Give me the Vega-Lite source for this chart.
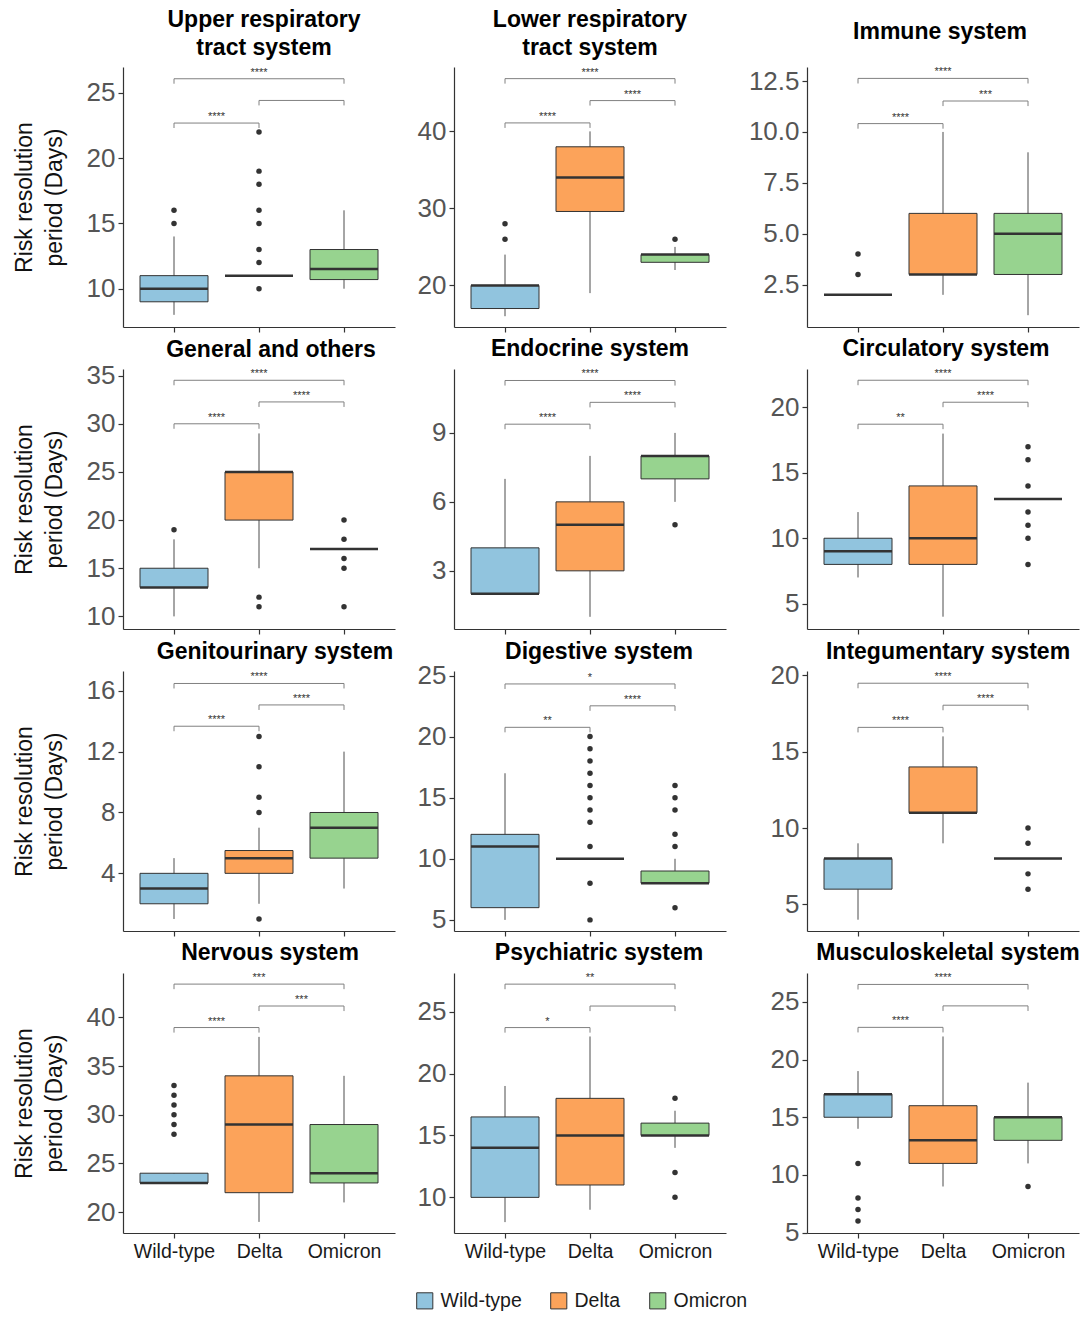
{
"$schema": "https://vega.github.io/schema/vega-lite/v6.json",
"padding": {"left": 13, "top": 8, "right": 5, "bottom": 5},
"data": {"values": [
{"panel":"Upper respiratory tract system","kind":"box","variant":"Wild-type","lo":8,"q1":9,"med":10,"q3":11,"hi":14},
{"panel":"Upper respiratory tract system","kind":"box","variant":"Delta","lo":11,"q1":11,"med":11,"q3":11,"hi":11},
{"panel":"Upper respiratory tract system","kind":"box","variant":"Omicron","lo":10,"q1":10.7,"med":11.5,"q3":13,"hi":16},
{"panel":"Upper respiratory tract system","kind":"out","variant":"Wild-type","value":15},
{"panel":"Upper respiratory tract system","kind":"out","variant":"Wild-type","value":16},
{"panel":"Upper respiratory tract system","kind":"out","variant":"Delta","value":10},
{"panel":"Upper respiratory tract system","kind":"out","variant":"Delta","value":12},
{"panel":"Upper respiratory tract system","kind":"out","variant":"Delta","value":13},
{"panel":"Upper respiratory tract system","kind":"out","variant":"Delta","value":15},
{"panel":"Upper respiratory tract system","kind":"out","variant":"Delta","value":16},
{"panel":"Upper respiratory tract system","kind":"out","variant":"Delta","value":18},
{"panel":"Upper respiratory tract system","kind":"out","variant":"Delta","value":19},
{"panel":"Upper respiratory tract system","kind":"out","variant":"Delta","value":22},
{"panel":"Upper respiratory tract system","kind":"br","variant":"Wild-type","to":"Delta","y":22.68,"tip":22.3,"label":"****","span":"adj"},
{"panel":"Upper respiratory tract system","kind":"br","variant":"Delta","to":"Omicron","y":24.41,"tip":24.03,"label":"","span":"adj"},
{"panel":"Upper respiratory tract system","kind":"br","variant":"Wild-type","to":"Omicron","y":26.07,"tip":25.69,"label":"****","span":"wide"},

{"panel":"Lower respiratory tract system","kind":"box","variant":"Wild-type","lo":16,"q1":17,"med":20,"q3":20,"hi":24},
{"panel":"Lower respiratory tract system","kind":"box","variant":"Delta","lo":19,"q1":29.6,"med":34,"q3":38,"hi":40},
{"panel":"Lower respiratory tract system","kind":"box","variant":"Omicron","lo":22,"q1":23,"med":24,"q3":24,"hi":25},
{"panel":"Lower respiratory tract system","kind":"out","variant":"Wild-type","value":26},
{"panel":"Lower respiratory tract system","kind":"out","variant":"Wild-type","value":28},
{"panel":"Lower respiratory tract system","kind":"out","variant":"Omicron","value":26},
{"panel":"Lower respiratory tract system","kind":"br","variant":"Wild-type","to":"Delta","y":41.1,"tip":40.45,"label":"****","span":"adj"},
{"panel":"Lower respiratory tract system","kind":"br","variant":"Delta","to":"Omicron","y":44.0,"tip":43.35,"label":"****","span":"adj"},
{"panel":"Lower respiratory tract system","kind":"br","variant":"Wild-type","to":"Omicron","y":46.85,"tip":46.2,"label":"****","span":"wide"},

{"panel":"Immune system","kind":"box","variant":"Wild-type","lo":2,"q1":2,"med":2,"q3":2,"hi":2},
{"panel":"Immune system","kind":"box","variant":"Delta","lo":2,"q1":3,"med":3,"q3":6,"hi":10},
{"panel":"Immune system","kind":"box","variant":"Omicron","lo":1,"q1":3,"med":5,"q3":6,"hi":9},
{"panel":"Immune system","kind":"out","variant":"Wild-type","value":3},
{"panel":"Immune system","kind":"out","variant":"Wild-type","value":4},
{"panel":"Immune system","kind":"br","variant":"Wild-type","to":"Delta","y":10.41,"tip":10.16,"label":"****","span":"adj"},
{"panel":"Immune system","kind":"br","variant":"Delta","to":"Omicron","y":11.52,"tip":11.27,"label":"***","span":"adj"},
{"panel":"Immune system","kind":"br","variant":"Wild-type","to":"Omicron","y":12.63,"tip":12.38,"label":"****","span":"wide"},

{"panel":"General and others","kind":"box","variant":"Wild-type","lo":10,"q1":13,"med":13,"q3":15,"hi":18},
{"panel":"General and others","kind":"box","variant":"Delta","lo":15,"q1":20,"med":25,"q3":25,"hi":29},
{"panel":"General and others","kind":"box","variant":"Omicron","lo":17,"q1":17,"med":17,"q3":17,"hi":17},
{"panel":"General and others","kind":"out","variant":"Wild-type","value":19},
{"panel":"General and others","kind":"out","variant":"Delta","value":11},
{"panel":"General and others","kind":"out","variant":"Delta","value":12},
{"panel":"General and others","kind":"out","variant":"Omicron","value":11},
{"panel":"General and others","kind":"out","variant":"Omicron","value":15},
{"panel":"General and others","kind":"out","variant":"Omicron","value":16},
{"panel":"General and others","kind":"out","variant":"Omicron","value":18},
{"panel":"General and others","kind":"out","variant":"Omicron","value":20},
{"panel":"General and others","kind":"br","variant":"Wild-type","to":"Delta","y":30.0,"tip":29.48,"label":"****","span":"adj"},
{"panel":"General and others","kind":"br","variant":"Delta","to":"Omicron","y":32.27,"tip":31.75,"label":"****","span":"adj"},
{"panel":"General and others","kind":"br","variant":"Wild-type","to":"Omicron","y":34.52,"tip":34.0,"label":"****","span":"wide"},

{"panel":"Endocrine system","kind":"box","variant":"Wild-type","lo":2,"q1":2,"med":2,"q3":4,"hi":7},
{"panel":"Endocrine system","kind":"box","variant":"Delta","lo":1,"q1":3,"med":5,"q3":6,"hi":8},
{"panel":"Endocrine system","kind":"box","variant":"Omicron","lo":6,"q1":7,"med":8,"q3":8,"hi":9},
{"panel":"Endocrine system","kind":"out","variant":"Omicron","value":5},
{"panel":"Endocrine system","kind":"br","variant":"Wild-type","to":"Delta","y":9.38,"tip":9.16,"label":"****","span":"adj"},
{"panel":"Endocrine system","kind":"br","variant":"Delta","to":"Omicron","y":10.33,"tip":10.11,"label":"****","span":"adj"},
{"panel":"Endocrine system","kind":"br","variant":"Wild-type","to":"Omicron","y":11.28,"tip":11.06,"label":"****","span":"wide"},

{"panel":"Circulatory system","kind":"box","variant":"Wild-type","lo":7,"q1":8,"med":9,"q3":10,"hi":12},
{"panel":"Circulatory system","kind":"box","variant":"Delta","lo":4,"q1":8,"med":10,"q3":14,"hi":18},
{"panel":"Circulatory system","kind":"box","variant":"Omicron","lo":13,"q1":13,"med":13,"q3":13,"hi":13},
{"panel":"Circulatory system","kind":"out","variant":"Omicron","value":8},
{"panel":"Circulatory system","kind":"out","variant":"Omicron","value":10},
{"panel":"Circulatory system","kind":"out","variant":"Omicron","value":11},
{"panel":"Circulatory system","kind":"out","variant":"Omicron","value":12},
{"panel":"Circulatory system","kind":"out","variant":"Omicron","value":14},
{"panel":"Circulatory system","kind":"out","variant":"Omicron","value":16},
{"panel":"Circulatory system","kind":"out","variant":"Omicron","value":17},
{"panel":"Circulatory system","kind":"br","variant":"Wild-type","to":"Delta","y":18.72,"tip":18.34,"label":"**","span":"adj"},
{"panel":"Circulatory system","kind":"br","variant":"Delta","to":"Omicron","y":20.4,"tip":20.02,"label":"****","span":"adj"},
{"panel":"Circulatory system","kind":"br","variant":"Wild-type","to":"Omicron","y":22.08,"tip":21.7,"label":"****","span":"wide"},

{"panel":"Genitourinary system","kind":"box","variant":"Wild-type","lo":1,"q1":2,"med":3,"q3":4,"hi":5},
{"panel":"Genitourinary system","kind":"box","variant":"Delta","lo":2,"q1":4,"med":5,"q3":5.5,"hi":7},
{"panel":"Genitourinary system","kind":"box","variant":"Omicron","lo":3,"q1":5,"med":7,"q3":8,"hi":12},
{"panel":"Genitourinary system","kind":"out","variant":"Delta","value":1},
{"panel":"Genitourinary system","kind":"out","variant":"Delta","value":8},
{"panel":"Genitourinary system","kind":"out","variant":"Delta","value":9},
{"panel":"Genitourinary system","kind":"out","variant":"Delta","value":11},
{"panel":"Genitourinary system","kind":"out","variant":"Delta","value":13},
{"panel":"Genitourinary system","kind":"br","variant":"Wild-type","to":"Delta","y":13.67,"tip":13.34,"label":"****","span":"adj"},
{"panel":"Genitourinary system","kind":"br","variant":"Delta","to":"Omicron","y":15.07,"tip":14.74,"label":"****","span":"adj"},
{"panel":"Genitourinary system","kind":"br","variant":"Wild-type","to":"Omicron","y":16.48,"tip":16.15,"label":"****","span":"wide"},

{"panel":"Digestive system","kind":"box","variant":"Wild-type","lo":5,"q1":6,"med":11,"q3":12,"hi":17},
{"panel":"Digestive system","kind":"box","variant":"Delta","lo":10,"q1":10,"med":10,"q3":10,"hi":10},
{"panel":"Digestive system","kind":"box","variant":"Omicron","lo":8,"q1":8,"med":8,"q3":9,"hi":10},
{"panel":"Digestive system","kind":"out","variant":"Delta","value":5},
{"panel":"Digestive system","kind":"out","variant":"Delta","value":8},
{"panel":"Digestive system","kind":"out","variant":"Delta","value":11},
{"panel":"Digestive system","kind":"out","variant":"Delta","value":13},
{"panel":"Digestive system","kind":"out","variant":"Delta","value":14},
{"panel":"Digestive system","kind":"out","variant":"Delta","value":15},
{"panel":"Digestive system","kind":"out","variant":"Delta","value":16},
{"panel":"Digestive system","kind":"out","variant":"Delta","value":17},
{"panel":"Digestive system","kind":"out","variant":"Delta","value":18},
{"panel":"Digestive system","kind":"out","variant":"Delta","value":19},
{"panel":"Digestive system","kind":"out","variant":"Delta","value":20},
{"panel":"Digestive system","kind":"out","variant":"Omicron","value":6},
{"panel":"Digestive system","kind":"out","variant":"Omicron","value":11},
{"panel":"Digestive system","kind":"out","variant":"Omicron","value":12},
{"panel":"Digestive system","kind":"out","variant":"Omicron","value":14},
{"panel":"Digestive system","kind":"out","variant":"Omicron","value":15},
{"panel":"Digestive system","kind":"out","variant":"Omicron","value":16},
{"panel":"Digestive system","kind":"br","variant":"Wild-type","to":"Delta","y":20.76,"tip":20.35,"label":"**","span":"adj"},
{"panel":"Digestive system","kind":"br","variant":"Delta","to":"Omicron","y":22.52,"tip":22.11,"label":"****","span":"adj"},
{"panel":"Digestive system","kind":"br","variant":"Wild-type","to":"Omicron","y":24.31,"tip":23.9,"label":"*","span":"wide"},

{"panel":"Integumentary system","kind":"box","variant":"Wild-type","lo":4,"q1":6,"med":8,"q3":8,"hi":9},
{"panel":"Integumentary system","kind":"box","variant":"Delta","lo":9,"q1":11,"med":11,"q3":14,"hi":16},
{"panel":"Integumentary system","kind":"box","variant":"Omicron","lo":8,"q1":8,"med":8,"q3":8,"hi":8},
{"panel":"Integumentary system","kind":"out","variant":"Omicron","value":6},
{"panel":"Integumentary system","kind":"out","variant":"Omicron","value":7},
{"panel":"Integumentary system","kind":"out","variant":"Omicron","value":9},
{"panel":"Integumentary system","kind":"out","variant":"Omicron","value":10},
{"panel":"Integumentary system","kind":"br","variant":"Wild-type","to":"Delta","y":16.59,"tip":16.26,"label":"****","span":"adj"},
{"panel":"Integumentary system","kind":"br","variant":"Delta","to":"Omicron","y":18.04,"tip":17.71,"label":"****","span":"adj"},
{"panel":"Integumentary system","kind":"br","variant":"Wild-type","to":"Omicron","y":19.48,"tip":19.15,"label":"****","span":"wide"},

{"panel":"Nervous system","kind":"box","variant":"Wild-type","lo":23,"q1":23,"med":23,"q3":24,"hi":24},
{"panel":"Nervous system","kind":"box","variant":"Delta","lo":19,"q1":22,"med":29,"q3":34,"hi":38},
{"panel":"Nervous system","kind":"box","variant":"Omicron","lo":21,"q1":23,"med":24,"q3":29,"hi":34},
{"panel":"Nervous system","kind":"out","variant":"Wild-type","value":28},
{"panel":"Nervous system","kind":"out","variant":"Wild-type","value":29},
{"panel":"Nervous system","kind":"out","variant":"Wild-type","value":30},
{"panel":"Nervous system","kind":"out","variant":"Wild-type","value":31},
{"panel":"Nervous system","kind":"out","variant":"Wild-type","value":32},
{"panel":"Nervous system","kind":"out","variant":"Wild-type","value":33},
{"panel":"Nervous system","kind":"br","variant":"Wild-type","to":"Delta","y":38.96,"tip":38.44,"label":"****","span":"adj"},
{"panel":"Nervous system","kind":"br","variant":"Delta","to":"Omicron","y":41.17,"tip":40.65,"label":"***","span":"adj"},
{"panel":"Nervous system","kind":"br","variant":"Wild-type","to":"Omicron","y":43.42,"tip":42.9,"label":"***","span":"wide"},

{"panel":"Psychiatric system","kind":"box","variant":"Wild-type","lo":8,"q1":10,"med":14,"q3":16.5,"hi":19},
{"panel":"Psychiatric system","kind":"box","variant":"Delta","lo":9,"q1":11,"med":15,"q3":18,"hi":23},
{"panel":"Psychiatric system","kind":"box","variant":"Omicron","lo":14,"q1":15,"med":15,"q3":16,"hi":17},
{"panel":"Psychiatric system","kind":"out","variant":"Omicron","value":10},
{"panel":"Psychiatric system","kind":"out","variant":"Omicron","value":12},
{"panel":"Psychiatric system","kind":"out","variant":"Omicron","value":18},
{"panel":"Psychiatric system","kind":"br","variant":"Wild-type","to":"Delta","y":23.72,"tip":23.31,"label":"*","span":"adj"},
{"panel":"Psychiatric system","kind":"br","variant":"Delta","to":"Omicron","y":25.46,"tip":25.05,"label":"","span":"adj"},
{"panel":"Psychiatric system","kind":"br","variant":"Wild-type","to":"Omicron","y":27.23,"tip":26.82,"label":"**","span":"wide"},

{"panel":"Musculoskeletal system","kind":"box","variant":"Wild-type","lo":14,"q1":15,"med":17,"q3":17,"hi":19},
{"panel":"Musculoskeletal system","kind":"box","variant":"Delta","lo":9,"q1":11,"med":13,"q3":16,"hi":22},
{"panel":"Musculoskeletal system","kind":"box","variant":"Omicron","lo":11,"q1":13,"med":15,"q3":15,"hi":18},
{"panel":"Musculoskeletal system","kind":"out","variant":"Wild-type","value":6},
{"panel":"Musculoskeletal system","kind":"out","variant":"Wild-type","value":7},
{"panel":"Musculoskeletal system","kind":"out","variant":"Wild-type","value":8},
{"panel":"Musculoskeletal system","kind":"out","variant":"Wild-type","value":11},
{"panel":"Musculoskeletal system","kind":"out","variant":"Omicron","value":9},
{"panel":"Musculoskeletal system","kind":"br","variant":"Wild-type","to":"Delta","y":22.79,"tip":22.35,"label":"****","span":"adj"},
{"panel":"Musculoskeletal system","kind":"br","variant":"Delta","to":"Omicron","y":24.65,"tip":24.21,"label":"","span":"adj"},
{"panel":"Musculoskeletal system","kind":"br","variant":"Wild-type","to":"Omicron","y":26.51,"tip":26.07,"label":"****","span":"wide"}
]},
"columns": 3,
"spacing": {"row": 5, "column": 22},
"resolve": {"scale": {"color": "shared"}, "legend": {"color": "shared"}},
"concat": [
{"width": 272, "height": 260, "title": {"text": ["Upper respiratory", "tract system"], "dx": 5},
 "transform": [{"filter": "datum.panel === 'Upper respiratory tract system'"}],
 "encoding": {"x": {"field": "variant", "type": "nominal", "scale": {"type": "point", "padding": 0.6, "domain": ["Wild-type", "Delta", "Omicron"]}, "axis": {"title": null, "labels": false}}},
 "layer": [
  {"transform": [{"filter": "datum.kind === 'box'"}], "mark": {"type": "rule", "color": "#4d4d4d", "strokeWidth": 1}, "encoding": {"y": {"field": "lo", "type": "quantitative", "scale": {"domain": [7.07, 26.97], "nice": false, "zero": false}, "axis": {"values": [10, 15, 20, 25], "title": ["Risk resolution", "period (Days)"]}}, "y2": {"field": "hi"}}},
  {"transform": [{"filter": "datum.kind === 'box'"}], "mark": {"type": "bar", "size": 68, "stroke": "#333333", "strokeWidth": 1}, "encoding": {"y": {"field": "q1", "type": "quantitative"}, "y2": {"field": "q3"}, "color": {"field": "variant", "type": "nominal", "scale": {"domain": ["Wild-type", "Delta", "Omicron"], "range": ["#91C4DE", "#FCA35A", "#97D38F"]}, "legend": {"title": null, "orient": "none", "legendX": 292, "legendY": 1224, "direction": "horizontal"}}}},
  {"transform": [{"filter": "datum.kind === 'box'"}], "mark": {"type": "tick", "size": 68, "thickness": 2.5, "color": "#333333", "opacity": 1}, "encoding": {"y": {"field": "med", "type": "quantitative"}}},
  {"transform": [{"filter": "datum.kind === 'out'"}], "mark": {"type": "circle", "size": 30, "color": "#333333", "opacity": 1}, "encoding": {"y": {"field": "value", "type": "quantitative"}}},
  {"transform": [{"filter": "datum.kind === 'br'"}], "mark": {"type": "rule", "color": "#808080", "strokeWidth": 1}, "encoding": {"y": {"field": "y", "type": "quantitative"}, "x2": {"field": "to"}}},
  {"transform": [{"filter": "datum.kind === 'br'"}], "mark": {"type": "rule", "color": "#808080", "strokeWidth": 1}, "encoding": {"y": {"field": "y", "type": "quantitative"}, "y2": {"field": "tip"}}},
  {"transform": [{"filter": "datum.kind === 'br'"}], "mark": {"type": "rule", "color": "#808080", "strokeWidth": 1}, "encoding": {"x": {"field": "to", "type": "nominal", "scale": {"type": "point", "padding": 0.6, "domain": ["Wild-type", "Delta", "Omicron"]}, "axis": {"title": null, "labels": false}}, "y": {"field": "y", "type": "quantitative"}, "y2": {"field": "tip"}}},
  {"transform": [{"filter": "datum.kind === 'br' && datum.span === 'adj'"}], "mark": {"type": "text", "dx": 42.5, "dy": -3, "baseline": "alphabetic", "fontSize": 11, "color": "#333333"}, "encoding": {"y": {"field": "y", "type": "quantitative"}, "text": {"field": "label"}}},
  {"transform": [{"filter": "datum.kind === 'br' && datum.span === 'wide'"}], "mark": {"type": "text", "dy": -3, "baseline": "alphabetic", "fontSize": 11, "color": "#333333"}, "encoding": {"x": {"datum": "Delta", "type": "nominal", "axis": {"title": null, "labels": false}}, "y": {"field": "y", "type": "quantitative"}, "text": {"field": "label"}}}
 ]},
{"width": 272, "height": 260, "title": {"text": ["Lower respiratory", "tract system"]},
 "transform": [{"filter": "datum.panel === 'Lower respiratory tract system'"}],
 "encoding": {"x": {"field": "variant", "type": "nominal", "scale": {"type": "point", "padding": 0.6, "domain": ["Wild-type", "Delta", "Omicron"]}, "axis": {"title": null, "labels": false}}},
 "layer": [
  {"transform": [{"filter": "datum.kind === 'box'"}], "mark": {"type": "rule", "color": "#4d4d4d", "strokeWidth": 1}, "encoding": {"y": {"field": "lo", "type": "quantitative", "scale": {"domain": [14.6, 48.36], "nice": false, "zero": false}, "axis": {"values": [20, 30, 40], "title": null}}, "y2": {"field": "hi"}}},
  {"transform": [{"filter": "datum.kind === 'box'"}], "mark": {"type": "bar", "size": 68, "stroke": "#333333", "strokeWidth": 1}, "encoding": {"y": {"field": "q1", "type": "quantitative"}, "y2": {"field": "q3"}, "color": {"field": "variant", "type": "nominal", "scale": {"domain": ["Wild-type", "Delta", "Omicron"], "range": ["#91C4DE", "#FCA35A", "#97D38F"]}, "legend": {"title": null, "orient": "none", "legendX": 292, "legendY": 1224, "direction": "horizontal"}}}},
  {"transform": [{"filter": "datum.kind === 'box'"}], "mark": {"type": "tick", "size": 68, "thickness": 2.5, "color": "#333333", "opacity": 1}, "encoding": {"y": {"field": "med", "type": "quantitative"}}},
  {"transform": [{"filter": "datum.kind === 'out'"}], "mark": {"type": "circle", "size": 30, "color": "#333333", "opacity": 1}, "encoding": {"y": {"field": "value", "type": "quantitative"}}},
  {"transform": [{"filter": "datum.kind === 'br'"}], "mark": {"type": "rule", "color": "#808080", "strokeWidth": 1}, "encoding": {"y": {"field": "y", "type": "quantitative"}, "x2": {"field": "to"}}},
  {"transform": [{"filter": "datum.kind === 'br'"}], "mark": {"type": "rule", "color": "#808080", "strokeWidth": 1}, "encoding": {"y": {"field": "y", "type": "quantitative"}, "y2": {"field": "tip"}}},
  {"transform": [{"filter": "datum.kind === 'br'"}], "mark": {"type": "rule", "color": "#808080", "strokeWidth": 1}, "encoding": {"x": {"field": "to", "type": "nominal", "scale": {"type": "point", "padding": 0.6, "domain": ["Wild-type", "Delta", "Omicron"]}, "axis": {"title": null, "labels": false}}, "y": {"field": "y", "type": "quantitative"}, "y2": {"field": "tip"}}},
  {"transform": [{"filter": "datum.kind === 'br' && datum.span === 'adj'"}], "mark": {"type": "text", "dx": 42.5, "dy": -3, "baseline": "alphabetic", "fontSize": 11, "color": "#333333"}, "encoding": {"y": {"field": "y", "type": "quantitative"}, "text": {"field": "label"}}},
  {"transform": [{"filter": "datum.kind === 'br' && datum.span === 'wide'"}], "mark": {"type": "text", "dy": -3, "baseline": "alphabetic", "fontSize": 11, "color": "#333333"}, "encoding": {"x": {"datum": "Delta", "type": "nominal", "axis": {"title": null, "labels": false}}, "y": {"field": "y", "type": "quantitative"}, "text": {"field": "label"}}}
 ]},
{"width": 272, "height": 260, "title": {"text": "Immune system", "offset": 22, "dx": -3},
 "transform": [{"filter": "datum.panel === 'Immune system'"}],
 "encoding": {"x": {"field": "variant", "type": "nominal", "scale": {"type": "point", "padding": 0.6, "domain": ["Wild-type", "Delta", "Omicron"]}, "axis": {"title": null, "labels": false}}},
 "layer": [
  {"transform": [{"filter": "datum.kind === 'box'"}], "mark": {"type": "rule", "color": "#4d4d4d", "strokeWidth": 1}, "encoding": {"y": {"field": "lo", "type": "quantitative", "scale": {"domain": [0.42, 13.19], "nice": false, "zero": false}, "axis": {"values": [2.5, 5, 7.5, 10, 12.5], "format": ".1f", "title": null}}, "y2": {"field": "hi"}}},
  {"transform": [{"filter": "datum.kind === 'box'"}], "mark": {"type": "bar", "size": 68, "stroke": "#333333", "strokeWidth": 1}, "encoding": {"y": {"field": "q1", "type": "quantitative"}, "y2": {"field": "q3"}, "color": {"field": "variant", "type": "nominal", "scale": {"domain": ["Wild-type", "Delta", "Omicron"], "range": ["#91C4DE", "#FCA35A", "#97D38F"]}, "legend": {"title": null, "orient": "none", "legendX": 292, "legendY": 1224, "direction": "horizontal"}}}},
  {"transform": [{"filter": "datum.kind === 'box'"}], "mark": {"type": "tick", "size": 68, "thickness": 2.5, "color": "#333333", "opacity": 1}, "encoding": {"y": {"field": "med", "type": "quantitative"}}},
  {"transform": [{"filter": "datum.kind === 'out'"}], "mark": {"type": "circle", "size": 30, "color": "#333333", "opacity": 1}, "encoding": {"y": {"field": "value", "type": "quantitative"}}},
  {"transform": [{"filter": "datum.kind === 'br'"}], "mark": {"type": "rule", "color": "#808080", "strokeWidth": 1}, "encoding": {"y": {"field": "y", "type": "quantitative"}, "x2": {"field": "to"}}},
  {"transform": [{"filter": "datum.kind === 'br'"}], "mark": {"type": "rule", "color": "#808080", "strokeWidth": 1}, "encoding": {"y": {"field": "y", "type": "quantitative"}, "y2": {"field": "tip"}}},
  {"transform": [{"filter": "datum.kind === 'br'"}], "mark": {"type": "rule", "color": "#808080", "strokeWidth": 1}, "encoding": {"x": {"field": "to", "type": "nominal", "scale": {"type": "point", "padding": 0.6, "domain": ["Wild-type", "Delta", "Omicron"]}, "axis": {"title": null, "labels": false}}, "y": {"field": "y", "type": "quantitative"}, "y2": {"field": "tip"}}},
  {"transform": [{"filter": "datum.kind === 'br' && datum.span === 'adj'"}], "mark": {"type": "text", "dx": 42.5, "dy": -3, "baseline": "alphabetic", "fontSize": 11, "color": "#333333"}, "encoding": {"y": {"field": "y", "type": "quantitative"}, "text": {"field": "label"}}},
  {"transform": [{"filter": "datum.kind === 'br' && datum.span === 'wide'"}], "mark": {"type": "text", "dy": -3, "baseline": "alphabetic", "fontSize": 11, "color": "#333333"}, "encoding": {"x": {"datum": "Delta", "type": "nominal", "axis": {"title": null, "labels": false}}, "y": {"field": "y", "type": "quantitative"}, "text": {"field": "label"}}}
 ]},
{"width": 272, "height": 260, "title": {"text": "General and others", "dx": 12, "offset": 1},
 "transform": [{"filter": "datum.panel === 'General and others'"}],
 "encoding": {"x": {"field": "variant", "type": "nominal", "scale": {"type": "point", "padding": 0.6, "domain": ["Wild-type", "Delta", "Omicron"]}, "axis": {"title": null, "labels": false}}},
 "layer": [
  {"transform": [{"filter": "datum.kind === 'box'"}], "mark": {"type": "rule", "color": "#4d4d4d", "strokeWidth": 1}, "encoding": {"y": {"field": "lo", "type": "quantitative", "scale": {"domain": [8.69, 35.69], "nice": false, "zero": false}, "axis": {"values": [10, 15, 20, 25, 30, 35], "title": ["Risk resolution", "period (Days)"]}}, "y2": {"field": "hi"}}},
  {"transform": [{"filter": "datum.kind === 'box'"}], "mark": {"type": "bar", "size": 68, "stroke": "#333333", "strokeWidth": 1}, "encoding": {"y": {"field": "q1", "type": "quantitative"}, "y2": {"field": "q3"}, "color": {"field": "variant", "type": "nominal", "scale": {"domain": ["Wild-type", "Delta", "Omicron"], "range": ["#91C4DE", "#FCA35A", "#97D38F"]}, "legend": {"title": null, "orient": "none", "legendX": 292, "legendY": 1224, "direction": "horizontal"}}}},
  {"transform": [{"filter": "datum.kind === 'box'"}], "mark": {"type": "tick", "size": 68, "thickness": 2.5, "color": "#333333", "opacity": 1}, "encoding": {"y": {"field": "med", "type": "quantitative"}}},
  {"transform": [{"filter": "datum.kind === 'out'"}], "mark": {"type": "circle", "size": 30, "color": "#333333", "opacity": 1}, "encoding": {"y": {"field": "value", "type": "quantitative"}}},
  {"transform": [{"filter": "datum.kind === 'br'"}], "mark": {"type": "rule", "color": "#808080", "strokeWidth": 1}, "encoding": {"y": {"field": "y", "type": "quantitative"}, "x2": {"field": "to"}}},
  {"transform": [{"filter": "datum.kind === 'br'"}], "mark": {"type": "rule", "color": "#808080", "strokeWidth": 1}, "encoding": {"y": {"field": "y", "type": "quantitative"}, "y2": {"field": "tip"}}},
  {"transform": [{"filter": "datum.kind === 'br'"}], "mark": {"type": "rule", "color": "#808080", "strokeWidth": 1}, "encoding": {"x": {"field": "to", "type": "nominal", "scale": {"type": "point", "padding": 0.6, "domain": ["Wild-type", "Delta", "Omicron"]}, "axis": {"title": null, "labels": false}}, "y": {"field": "y", "type": "quantitative"}, "y2": {"field": "tip"}}},
  {"transform": [{"filter": "datum.kind === 'br' && datum.span === 'adj'"}], "mark": {"type": "text", "dx": 42.5, "dy": -3, "baseline": "alphabetic", "fontSize": 11, "color": "#333333"}, "encoding": {"y": {"field": "y", "type": "quantitative"}, "text": {"field": "label"}}},
  {"transform": [{"filter": "datum.kind === 'br' && datum.span === 'wide'"}], "mark": {"type": "text", "dy": -3, "baseline": "alphabetic", "fontSize": 11, "color": "#333333"}, "encoding": {"x": {"datum": "Delta", "type": "nominal", "axis": {"title": null, "labels": false}}, "y": {"field": "y", "type": "quantitative"}, "text": {"field": "label"}}}
 ]},
{"width": 272, "height": 260, "title": {"text": "Endocrine system"},
 "transform": [{"filter": "datum.panel === 'Endocrine system'"}],
 "encoding": {"x": {"field": "variant", "type": "nominal", "scale": {"type": "point", "padding": 0.6, "domain": ["Wild-type", "Delta", "Omicron"]}, "axis": {"title": null, "labels": false}}},
 "layer": [
  {"transform": [{"filter": "datum.kind === 'box'"}], "mark": {"type": "rule", "color": "#4d4d4d", "strokeWidth": 1}, "encoding": {"y": {"field": "lo", "type": "quantitative", "scale": {"domain": [0.47, 11.78], "nice": false, "zero": false}, "axis": {"values": [3, 6, 9], "title": null}}, "y2": {"field": "hi"}}},
  {"transform": [{"filter": "datum.kind === 'box'"}], "mark": {"type": "bar", "size": 68, "stroke": "#333333", "strokeWidth": 1}, "encoding": {"y": {"field": "q1", "type": "quantitative"}, "y2": {"field": "q3"}, "color": {"field": "variant", "type": "nominal", "scale": {"domain": ["Wild-type", "Delta", "Omicron"], "range": ["#91C4DE", "#FCA35A", "#97D38F"]}, "legend": {"title": null, "orient": "none", "legendX": 292, "legendY": 1224, "direction": "horizontal"}}}},
  {"transform": [{"filter": "datum.kind === 'box'"}], "mark": {"type": "tick", "size": 68, "thickness": 2.5, "color": "#333333", "opacity": 1}, "encoding": {"y": {"field": "med", "type": "quantitative"}}},
  {"transform": [{"filter": "datum.kind === 'out'"}], "mark": {"type": "circle", "size": 30, "color": "#333333", "opacity": 1}, "encoding": {"y": {"field": "value", "type": "quantitative"}}},
  {"transform": [{"filter": "datum.kind === 'br'"}], "mark": {"type": "rule", "color": "#808080", "strokeWidth": 1}, "encoding": {"y": {"field": "y", "type": "quantitative"}, "x2": {"field": "to"}}},
  {"transform": [{"filter": "datum.kind === 'br'"}], "mark": {"type": "rule", "color": "#808080", "strokeWidth": 1}, "encoding": {"y": {"field": "y", "type": "quantitative"}, "y2": {"field": "tip"}}},
  {"transform": [{"filter": "datum.kind === 'br'"}], "mark": {"type": "rule", "color": "#808080", "strokeWidth": 1}, "encoding": {"x": {"field": "to", "type": "nominal", "scale": {"type": "point", "padding": 0.6, "domain": ["Wild-type", "Delta", "Omicron"]}, "axis": {"title": null, "labels": false}}, "y": {"field": "y", "type": "quantitative"}, "y2": {"field": "tip"}}},
  {"transform": [{"filter": "datum.kind === 'br' && datum.span === 'adj'"}], "mark": {"type": "text", "dx": 42.5, "dy": -3, "baseline": "alphabetic", "fontSize": 11, "color": "#333333"}, "encoding": {"y": {"field": "y", "type": "quantitative"}, "text": {"field": "label"}}},
  {"transform": [{"filter": "datum.kind === 'br' && datum.span === 'wide'"}], "mark": {"type": "text", "dy": -3, "baseline": "alphabetic", "fontSize": 11, "color": "#333333"}, "encoding": {"x": {"datum": "Delta", "type": "nominal", "axis": {"title": null, "labels": false}}, "y": {"field": "y", "type": "quantitative"}, "text": {"field": "label"}}}
 ]},
{"width": 272, "height": 260, "title": {"text": "Circulatory system", "dx": 3},
 "transform": [{"filter": "datum.panel === 'Circulatory system'"}],
 "encoding": {"x": {"field": "variant", "type": "nominal", "scale": {"type": "point", "padding": 0.6, "domain": ["Wild-type", "Delta", "Omicron"]}, "axis": {"title": null, "labels": false}}},
 "layer": [
  {"transform": [{"filter": "datum.kind === 'box'"}], "mark": {"type": "rule", "color": "#4d4d4d", "strokeWidth": 1}, "encoding": {"y": {"field": "lo", "type": "quantitative", "scale": {"domain": [3.06, 22.94], "nice": false, "zero": false}, "axis": {"values": [5, 10, 15, 20], "title": null}}, "y2": {"field": "hi"}}},
  {"transform": [{"filter": "datum.kind === 'box'"}], "mark": {"type": "bar", "size": 68, "stroke": "#333333", "strokeWidth": 1}, "encoding": {"y": {"field": "q1", "type": "quantitative"}, "y2": {"field": "q3"}, "color": {"field": "variant", "type": "nominal", "scale": {"domain": ["Wild-type", "Delta", "Omicron"], "range": ["#91C4DE", "#FCA35A", "#97D38F"]}, "legend": {"title": null, "orient": "none", "legendX": 292, "legendY": 1224, "direction": "horizontal"}}}},
  {"transform": [{"filter": "datum.kind === 'box'"}], "mark": {"type": "tick", "size": 68, "thickness": 2.5, "color": "#333333", "opacity": 1}, "encoding": {"y": {"field": "med", "type": "quantitative"}}},
  {"transform": [{"filter": "datum.kind === 'out'"}], "mark": {"type": "circle", "size": 30, "color": "#333333", "opacity": 1}, "encoding": {"y": {"field": "value", "type": "quantitative"}}},
  {"transform": [{"filter": "datum.kind === 'br'"}], "mark": {"type": "rule", "color": "#808080", "strokeWidth": 1}, "encoding": {"y": {"field": "y", "type": "quantitative"}, "x2": {"field": "to"}}},
  {"transform": [{"filter": "datum.kind === 'br'"}], "mark": {"type": "rule", "color": "#808080", "strokeWidth": 1}, "encoding": {"y": {"field": "y", "type": "quantitative"}, "y2": {"field": "tip"}}},
  {"transform": [{"filter": "datum.kind === 'br'"}], "mark": {"type": "rule", "color": "#808080", "strokeWidth": 1}, "encoding": {"x": {"field": "to", "type": "nominal", "scale": {"type": "point", "padding": 0.6, "domain": ["Wild-type", "Delta", "Omicron"]}, "axis": {"title": null, "labels": false}}, "y": {"field": "y", "type": "quantitative"}, "y2": {"field": "tip"}}},
  {"transform": [{"filter": "datum.kind === 'br' && datum.span === 'adj'"}], "mark": {"type": "text", "dx": 42.5, "dy": -3, "baseline": "alphabetic", "fontSize": 11, "color": "#333333"}, "encoding": {"y": {"field": "y", "type": "quantitative"}, "text": {"field": "label"}}},
  {"transform": [{"filter": "datum.kind === 'br' && datum.span === 'wide'"}], "mark": {"type": "text", "dy": -3, "baseline": "alphabetic", "fontSize": 11, "color": "#333333"}, "encoding": {"x": {"datum": "Delta", "type": "nominal", "axis": {"title": null, "labels": false}}, "y": {"field": "y", "type": "quantitative"}, "text": {"field": "label"}}}
 ]},
{"width": 272, "height": 260, "title": {"text": "Genitourinary system", "dx": 16},
 "transform": [{"filter": "datum.panel === 'Genitourinary system'"}],
 "encoding": {"x": {"field": "variant", "type": "nominal", "scale": {"type": "point", "padding": 0.6, "domain": ["Wild-type", "Delta", "Omicron"]}, "axis": {"title": null, "labels": false}}},
 "layer": [
  {"transform": [{"filter": "datum.kind === 'box'"}], "mark": {"type": "rule", "color": "#4d4d4d", "strokeWidth": 1}, "encoding": {"y": {"field": "lo", "type": "quantitative", "scale": {"domain": [0.21, 17.3], "nice": false, "zero": false}, "axis": {"values": [4, 8, 12, 16], "title": ["Risk resolution", "period (Days)"]}}, "y2": {"field": "hi"}}},
  {"transform": [{"filter": "datum.kind === 'box'"}], "mark": {"type": "bar", "size": 68, "stroke": "#333333", "strokeWidth": 1}, "encoding": {"y": {"field": "q1", "type": "quantitative"}, "y2": {"field": "q3"}, "color": {"field": "variant", "type": "nominal", "scale": {"domain": ["Wild-type", "Delta", "Omicron"], "range": ["#91C4DE", "#FCA35A", "#97D38F"]}, "legend": {"title": null, "orient": "none", "legendX": 292, "legendY": 1224, "direction": "horizontal"}}}},
  {"transform": [{"filter": "datum.kind === 'box'"}], "mark": {"type": "tick", "size": 68, "thickness": 2.5, "color": "#333333", "opacity": 1}, "encoding": {"y": {"field": "med", "type": "quantitative"}}},
  {"transform": [{"filter": "datum.kind === 'out'"}], "mark": {"type": "circle", "size": 30, "color": "#333333", "opacity": 1}, "encoding": {"y": {"field": "value", "type": "quantitative"}}},
  {"transform": [{"filter": "datum.kind === 'br'"}], "mark": {"type": "rule", "color": "#808080", "strokeWidth": 1}, "encoding": {"y": {"field": "y", "type": "quantitative"}, "x2": {"field": "to"}}},
  {"transform": [{"filter": "datum.kind === 'br'"}], "mark": {"type": "rule", "color": "#808080", "strokeWidth": 1}, "encoding": {"y": {"field": "y", "type": "quantitative"}, "y2": {"field": "tip"}}},
  {"transform": [{"filter": "datum.kind === 'br'"}], "mark": {"type": "rule", "color": "#808080", "strokeWidth": 1}, "encoding": {"x": {"field": "to", "type": "nominal", "scale": {"type": "point", "padding": 0.6, "domain": ["Wild-type", "Delta", "Omicron"]}, "axis": {"title": null, "labels": false}}, "y": {"field": "y", "type": "quantitative"}, "y2": {"field": "tip"}}},
  {"transform": [{"filter": "datum.kind === 'br' && datum.span === 'adj'"}], "mark": {"type": "text", "dx": 42.5, "dy": -3, "baseline": "alphabetic", "fontSize": 11, "color": "#333333"}, "encoding": {"y": {"field": "y", "type": "quantitative"}, "text": {"field": "label"}}},
  {"transform": [{"filter": "datum.kind === 'br' && datum.span === 'wide'"}], "mark": {"type": "text", "dy": -3, "baseline": "alphabetic", "fontSize": 11, "color": "#333333"}, "encoding": {"x": {"datum": "Delta", "type": "nominal", "axis": {"title": null, "labels": false}}, "y": {"field": "y", "type": "quantitative"}, "text": {"field": "label"}}}
 ]},
{"width": 272, "height": 260, "title": {"text": "Digestive system", "dx": 9, "offset": -1.5},
 "transform": [{"filter": "datum.panel === 'Digestive system'"}],
 "encoding": {"x": {"field": "variant", "type": "nominal", "scale": {"type": "point", "padding": 0.6, "domain": ["Wild-type", "Delta", "Omicron"]}, "axis": {"title": null, "labels": false}}},
 "layer": [
  {"transform": [{"filter": "datum.kind === 'box'"}], "mark": {"type": "rule", "color": "#4d4d4d", "strokeWidth": 1}, "encoding": {"y": {"field": "lo", "type": "quantitative", "scale": {"domain": [4.09, 25.37], "nice": false, "zero": false}, "axis": {"values": [5, 10, 15, 20, 25], "title": null}}, "y2": {"field": "hi"}}},
  {"transform": [{"filter": "datum.kind === 'box'"}], "mark": {"type": "bar", "size": 68, "stroke": "#333333", "strokeWidth": 1}, "encoding": {"y": {"field": "q1", "type": "quantitative"}, "y2": {"field": "q3"}, "color": {"field": "variant", "type": "nominal", "scale": {"domain": ["Wild-type", "Delta", "Omicron"], "range": ["#91C4DE", "#FCA35A", "#97D38F"]}, "legend": {"title": null, "orient": "none", "legendX": 292, "legendY": 1224, "direction": "horizontal"}}}},
  {"transform": [{"filter": "datum.kind === 'box'"}], "mark": {"type": "tick", "size": 68, "thickness": 2.5, "color": "#333333", "opacity": 1}, "encoding": {"y": {"field": "med", "type": "quantitative"}}},
  {"transform": [{"filter": "datum.kind === 'out'"}], "mark": {"type": "circle", "size": 30, "color": "#333333", "opacity": 1}, "encoding": {"y": {"field": "value", "type": "quantitative"}}},
  {"transform": [{"filter": "datum.kind === 'br'"}], "mark": {"type": "rule", "color": "#808080", "strokeWidth": 1}, "encoding": {"y": {"field": "y", "type": "quantitative"}, "x2": {"field": "to"}}},
  {"transform": [{"filter": "datum.kind === 'br'"}], "mark": {"type": "rule", "color": "#808080", "strokeWidth": 1}, "encoding": {"y": {"field": "y", "type": "quantitative"}, "y2": {"field": "tip"}}},
  {"transform": [{"filter": "datum.kind === 'br'"}], "mark": {"type": "rule", "color": "#808080", "strokeWidth": 1}, "encoding": {"x": {"field": "to", "type": "nominal", "scale": {"type": "point", "padding": 0.6, "domain": ["Wild-type", "Delta", "Omicron"]}, "axis": {"title": null, "labels": false}}, "y": {"field": "y", "type": "quantitative"}, "y2": {"field": "tip"}}},
  {"transform": [{"filter": "datum.kind === 'br' && datum.span === 'adj'"}], "mark": {"type": "text", "dx": 42.5, "dy": -3, "baseline": "alphabetic", "fontSize": 11, "color": "#333333"}, "encoding": {"y": {"field": "y", "type": "quantitative"}, "text": {"field": "label"}}},
  {"transform": [{"filter": "datum.kind === 'br' && datum.span === 'wide'"}], "mark": {"type": "text", "dy": -3, "baseline": "alphabetic", "fontSize": 11, "color": "#333333"}, "encoding": {"x": {"datum": "Delta", "type": "nominal", "axis": {"title": null, "labels": false}}, "y": {"field": "y", "type": "quantitative"}, "text": {"field": "label"}}}
 ]},
{"width": 272, "height": 260, "title": {"text": "Integumentary system", "dx": 5, "offset": -1.7},
 "transform": [{"filter": "datum.panel === 'Integumentary system'"}],
 "encoding": {"x": {"field": "variant", "type": "nominal", "scale": {"type": "point", "padding": 0.6, "domain": ["Wild-type", "Delta", "Omicron"]}, "axis": {"title": null, "labels": false}}},
 "layer": [
  {"transform": [{"filter": "datum.kind === 'box'"}], "mark": {"type": "rule", "color": "#4d4d4d", "strokeWidth": 1}, "encoding": {"y": {"field": "lo", "type": "quantitative", "scale": {"domain": [3.26, 20.28], "nice": false, "zero": false}, "axis": {"values": [5, 10, 15, 20], "title": null}}, "y2": {"field": "hi"}}},
  {"transform": [{"filter": "datum.kind === 'box'"}], "mark": {"type": "bar", "size": 68, "stroke": "#333333", "strokeWidth": 1}, "encoding": {"y": {"field": "q1", "type": "quantitative"}, "y2": {"field": "q3"}, "color": {"field": "variant", "type": "nominal", "scale": {"domain": ["Wild-type", "Delta", "Omicron"], "range": ["#91C4DE", "#FCA35A", "#97D38F"]}, "legend": {"title": null, "orient": "none", "legendX": 292, "legendY": 1224, "direction": "horizontal"}}}},
  {"transform": [{"filter": "datum.kind === 'box'"}], "mark": {"type": "tick", "size": 68, "thickness": 2.5, "color": "#333333", "opacity": 1}, "encoding": {"y": {"field": "med", "type": "quantitative"}}},
  {"transform": [{"filter": "datum.kind === 'out'"}], "mark": {"type": "circle", "size": 30, "color": "#333333", "opacity": 1}, "encoding": {"y": {"field": "value", "type": "quantitative"}}},
  {"transform": [{"filter": "datum.kind === 'br'"}], "mark": {"type": "rule", "color": "#808080", "strokeWidth": 1}, "encoding": {"y": {"field": "y", "type": "quantitative"}, "x2": {"field": "to"}}},
  {"transform": [{"filter": "datum.kind === 'br'"}], "mark": {"type": "rule", "color": "#808080", "strokeWidth": 1}, "encoding": {"y": {"field": "y", "type": "quantitative"}, "y2": {"field": "tip"}}},
  {"transform": [{"filter": "datum.kind === 'br'"}], "mark": {"type": "rule", "color": "#808080", "strokeWidth": 1}, "encoding": {"x": {"field": "to", "type": "nominal", "scale": {"type": "point", "padding": 0.6, "domain": ["Wild-type", "Delta", "Omicron"]}, "axis": {"title": null, "labels": false}}, "y": {"field": "y", "type": "quantitative"}, "y2": {"field": "tip"}}},
  {"transform": [{"filter": "datum.kind === 'br' && datum.span === 'adj'"}], "mark": {"type": "text", "dx": 42.5, "dy": -3, "baseline": "alphabetic", "fontSize": 11, "color": "#333333"}, "encoding": {"y": {"field": "y", "type": "quantitative"}, "text": {"field": "label"}}},
  {"transform": [{"filter": "datum.kind === 'br' && datum.span === 'wide'"}], "mark": {"type": "text", "dy": -3, "baseline": "alphabetic", "fontSize": 11, "color": "#333333"}, "encoding": {"x": {"datum": "Delta", "type": "nominal", "axis": {"title": null, "labels": false}}, "y": {"field": "y", "type": "quantitative"}, "text": {"field": "label"}}}
 ]},
{"width": 272, "height": 260, "title": {"text": "Nervous system", "dx": 11},
 "transform": [{"filter": "datum.panel === 'Nervous system'"}],
 "encoding": {"x": {"field": "variant", "type": "nominal", "scale": {"type": "point", "padding": 0.6, "domain": ["Wild-type", "Delta", "Omicron"]}, "axis": {"title": null}}},
 "layer": [
  {"transform": [{"filter": "datum.kind === 'box'"}], "mark": {"type": "rule", "color": "#4d4d4d", "strokeWidth": 1}, "encoding": {"y": {"field": "lo", "type": "quantitative", "scale": {"domain": [17.86, 44.56], "nice": false, "zero": false}, "axis": {"values": [20, 25, 30, 35, 40], "title": ["Risk resolution", "period (Days)"]}}, "y2": {"field": "hi"}}},
  {"transform": [{"filter": "datum.kind === 'box'"}], "mark": {"type": "bar", "size": 68, "stroke": "#333333", "strokeWidth": 1}, "encoding": {"y": {"field": "q1", "type": "quantitative"}, "y2": {"field": "q3"}, "color": {"field": "variant", "type": "nominal", "scale": {"domain": ["Wild-type", "Delta", "Omicron"], "range": ["#91C4DE", "#FCA35A", "#97D38F"]}, "legend": {"title": null, "orient": "none", "legendX": 292, "legendY": 1224, "direction": "horizontal"}}}},
  {"transform": [{"filter": "datum.kind === 'box'"}], "mark": {"type": "tick", "size": 68, "thickness": 2.5, "color": "#333333", "opacity": 1}, "encoding": {"y": {"field": "med", "type": "quantitative"}}},
  {"transform": [{"filter": "datum.kind === 'out'"}], "mark": {"type": "circle", "size": 30, "color": "#333333", "opacity": 1}, "encoding": {"y": {"field": "value", "type": "quantitative"}}},
  {"transform": [{"filter": "datum.kind === 'br'"}], "mark": {"type": "rule", "color": "#808080", "strokeWidth": 1}, "encoding": {"y": {"field": "y", "type": "quantitative"}, "x2": {"field": "to"}}},
  {"transform": [{"filter": "datum.kind === 'br'"}], "mark": {"type": "rule", "color": "#808080", "strokeWidth": 1}, "encoding": {"y": {"field": "y", "type": "quantitative"}, "y2": {"field": "tip"}}},
  {"transform": [{"filter": "datum.kind === 'br'"}], "mark": {"type": "rule", "color": "#808080", "strokeWidth": 1}, "encoding": {"x": {"field": "to", "type": "nominal", "scale": {"type": "point", "padding": 0.6, "domain": ["Wild-type", "Delta", "Omicron"]}, "axis": {"title": null}}, "y": {"field": "y", "type": "quantitative"}, "y2": {"field": "tip"}}},
  {"transform": [{"filter": "datum.kind === 'br' && datum.span === 'adj'"}], "mark": {"type": "text", "dx": 42.5, "dy": -3, "baseline": "alphabetic", "fontSize": 11, "color": "#333333"}, "encoding": {"y": {"field": "y", "type": "quantitative"}, "text": {"field": "label"}}},
  {"transform": [{"filter": "datum.kind === 'br' && datum.span === 'wide'"}], "mark": {"type": "text", "dy": -3, "baseline": "alphabetic", "fontSize": 11, "color": "#333333"}, "encoding": {"x": {"datum": "Delta", "type": "nominal", "axis": {"title": null}}, "y": {"field": "y", "type": "quantitative"}, "text": {"field": "label"}}}
 ]},
{"width": 272, "height": 260, "title": {"text": "Psychiatric system", "dx": 9},
 "transform": [{"filter": "datum.panel === 'Psychiatric system'"}],
 "encoding": {"x": {"field": "variant", "type": "nominal", "scale": {"type": "point", "padding": 0.6, "domain": ["Wild-type", "Delta", "Omicron"]}, "axis": {"title": null}}},
 "layer": [
  {"transform": [{"filter": "datum.kind === 'box'"}], "mark": {"type": "rule", "color": "#4d4d4d", "strokeWidth": 1}, "encoding": {"y": {"field": "lo", "type": "quantitative", "scale": {"domain": [7.12, 28.13], "nice": false, "zero": false}, "axis": {"values": [10, 15, 20, 25], "title": null}}, "y2": {"field": "hi"}}},
  {"transform": [{"filter": "datum.kind === 'box'"}], "mark": {"type": "bar", "size": 68, "stroke": "#333333", "strokeWidth": 1}, "encoding": {"y": {"field": "q1", "type": "quantitative"}, "y2": {"field": "q3"}, "color": {"field": "variant", "type": "nominal", "scale": {"domain": ["Wild-type", "Delta", "Omicron"], "range": ["#91C4DE", "#FCA35A", "#97D38F"]}, "legend": {"title": null, "orient": "none", "legendX": 292, "legendY": 1224, "direction": "horizontal"}}}},
  {"transform": [{"filter": "datum.kind === 'box'"}], "mark": {"type": "tick", "size": 68, "thickness": 2.5, "color": "#333333", "opacity": 1}, "encoding": {"y": {"field": "med", "type": "quantitative"}}},
  {"transform": [{"filter": "datum.kind === 'out'"}], "mark": {"type": "circle", "size": 30, "color": "#333333", "opacity": 1}, "encoding": {"y": {"field": "value", "type": "quantitative"}}},
  {"transform": [{"filter": "datum.kind === 'br'"}], "mark": {"type": "rule", "color": "#808080", "strokeWidth": 1}, "encoding": {"y": {"field": "y", "type": "quantitative"}, "x2": {"field": "to"}}},
  {"transform": [{"filter": "datum.kind === 'br'"}], "mark": {"type": "rule", "color": "#808080", "strokeWidth": 1}, "encoding": {"y": {"field": "y", "type": "quantitative"}, "y2": {"field": "tip"}}},
  {"transform": [{"filter": "datum.kind === 'br'"}], "mark": {"type": "rule", "color": "#808080", "strokeWidth": 1}, "encoding": {"x": {"field": "to", "type": "nominal", "scale": {"type": "point", "padding": 0.6, "domain": ["Wild-type", "Delta", "Omicron"]}, "axis": {"title": null}}, "y": {"field": "y", "type": "quantitative"}, "y2": {"field": "tip"}}},
  {"transform": [{"filter": "datum.kind === 'br' && datum.span === 'adj'"}], "mark": {"type": "text", "dx": 42.5, "dy": -3, "baseline": "alphabetic", "fontSize": 11, "color": "#333333"}, "encoding": {"y": {"field": "y", "type": "quantitative"}, "text": {"field": "label"}}},
  {"transform": [{"filter": "datum.kind === 'br' && datum.span === 'wide'"}], "mark": {"type": "text", "dy": -3, "baseline": "alphabetic", "fontSize": 11, "color": "#333333"}, "encoding": {"x": {"datum": "Delta", "type": "nominal", "axis": {"title": null}}, "y": {"field": "y", "type": "quantitative"}, "text": {"field": "label"}}}
 ]},
{"width": 272, "height": 260, "title": {"text": "Musculoskeletal system", "dx": 5},
 "transform": [{"filter": "datum.panel === 'Musculoskeletal system'"}],
 "encoding": {"x": {"field": "variant", "type": "nominal", "scale": {"type": "point", "padding": 0.6, "domain": ["Wild-type", "Delta", "Omicron"]}, "axis": {"title": null}}},
 "layer": [
  {"transform": [{"filter": "datum.kind === 'box'"}], "mark": {"type": "rule", "color": "#4d4d4d", "strokeWidth": 1}, "encoding": {"y": {"field": "lo", "type": "quantitative", "scale": {"domain": [4.97, 27.5], "nice": false, "zero": false}, "axis": {"values": [5, 10, 15, 20, 25], "title": null}}, "y2": {"field": "hi"}}},
  {"transform": [{"filter": "datum.kind === 'box'"}], "mark": {"type": "bar", "size": 68, "stroke": "#333333", "strokeWidth": 1}, "encoding": {"y": {"field": "q1", "type": "quantitative"}, "y2": {"field": "q3"}, "color": {"field": "variant", "type": "nominal", "scale": {"domain": ["Wild-type", "Delta", "Omicron"], "range": ["#91C4DE", "#FCA35A", "#97D38F"]}, "legend": {"title": null, "orient": "none", "legendX": 292, "legendY": 1224, "direction": "horizontal"}}}},
  {"transform": [{"filter": "datum.kind === 'box'"}], "mark": {"type": "tick", "size": 68, "thickness": 2.5, "color": "#333333", "opacity": 1}, "encoding": {"y": {"field": "med", "type": "quantitative"}}},
  {"transform": [{"filter": "datum.kind === 'out'"}], "mark": {"type": "circle", "size": 30, "color": "#333333", "opacity": 1}, "encoding": {"y": {"field": "value", "type": "quantitative"}}},
  {"transform": [{"filter": "datum.kind === 'br'"}], "mark": {"type": "rule", "color": "#808080", "strokeWidth": 1}, "encoding": {"y": {"field": "y", "type": "quantitative"}, "x2": {"field": "to"}}},
  {"transform": [{"filter": "datum.kind === 'br'"}], "mark": {"type": "rule", "color": "#808080", "strokeWidth": 1}, "encoding": {"y": {"field": "y", "type": "quantitative"}, "y2": {"field": "tip"}}},
  {"transform": [{"filter": "datum.kind === 'br'"}], "mark": {"type": "rule", "color": "#808080", "strokeWidth": 1}, "encoding": {"x": {"field": "to", "type": "nominal", "scale": {"type": "point", "padding": 0.6, "domain": ["Wild-type", "Delta", "Omicron"]}, "axis": {"title": null}}, "y": {"field": "y", "type": "quantitative"}, "y2": {"field": "tip"}}},
  {"transform": [{"filter": "datum.kind === 'br' && datum.span === 'adj'"}], "mark": {"type": "text", "dx": 42.5, "dy": -3, "baseline": "alphabetic", "fontSize": 11, "color": "#333333"}, "encoding": {"y": {"field": "y", "type": "quantitative"}, "text": {"field": "label"}}},
  {"transform": [{"filter": "datum.kind === 'br' && datum.span === 'wide'"}], "mark": {"type": "text", "dy": -3, "baseline": "alphabetic", "fontSize": 11, "color": "#333333"}, "encoding": {"x": {"datum": "Delta", "type": "nominal", "axis": {"title": null}}, "y": {"field": "y", "type": "quantitative"}, "text": {"field": "label"}}}
 ]}
],
"config": {
 "font": "Liberation Sans",
 "view": {"stroke": null},
 "axis": {"grid": false, "domainColor": "#333333", "domainWidth": 1.2, "tickColor": "#333333", "tickWidth": 1.2, "tickSize": 5, "labelFont": "Liberation Sans", "titleFont": "Liberation Sans"},
 "axisY": {"labelFontSize": 26, "labelColor": "#555555", "labelPadding": 3, "titleFontSize": 23, "titleFontWeight": "normal", "titleColor": "#111111", "titlePadding": 20, "titleLineHeight": 30},
 "axisX": {"labelFontSize": 19.5, "labelColor": "#1a1a1a", "labelPadding": 4, "labelAngle": 0},
 "title": {"font": "Liberation Sans", "fontSize": 23, "fontWeight": "bold", "color": "#000000", "lineHeight": 28, "offset": 7, "anchor": "middle", "frame": "group"},
 "legend": {"padding": 0, "labelFontSize": 19.5, "labelFont": "Liberation Sans", "labelColor": "#1a1a1a", "symbolType": "square", "symbolSize": 260, "symbolStrokeColor": "#333333", "symbolStrokeWidth": 1, "columnPadding": 26, "labelOffset": 6}
}
}
